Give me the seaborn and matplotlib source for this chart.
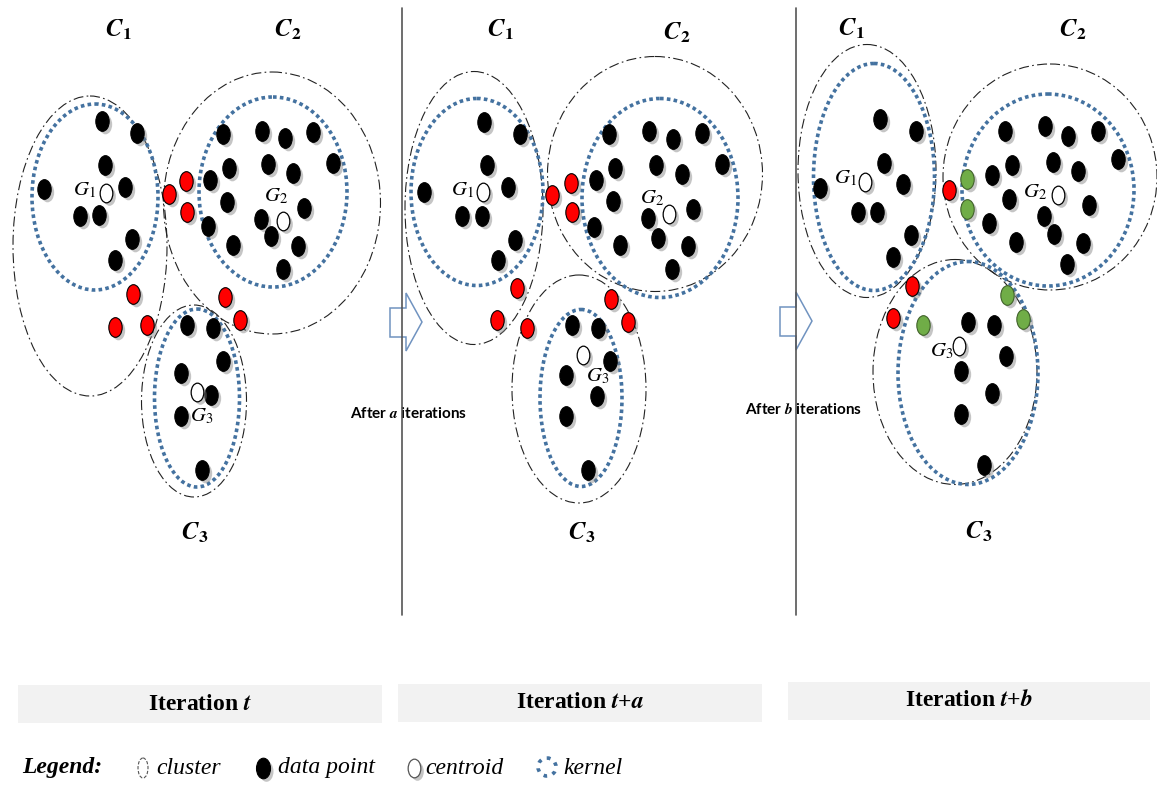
import numpy as np
import matplotlib
matplotlib.use('Agg')
import matplotlib.pyplot as plt
import seaborn as sns
from matplotlib.patches import Ellipse, Polygon, Rectangle
from matplotlib.path import Path
from matplotlib.transforms import offset_copy

# ---- data (pixel coordinates, y downwards) ----
black_t = [(102,121),(137,133),(105,165),(44,189),(125,187),(80,216),(99,215),(132,239),(115,260),
           (223,134),(262,131),(285,138),(313,132),(333,163),(229,168),(268,164),(293,173),(210,180),
           (227,202),(304,208),(261,219),(208,226),(271,236),(298,246),(233,245),(283,269),
           (187,325),(213,328),(223,361),(181,373),(211,395),(181,416),(202,470)]
red_t = [(169,194),(186,181),(187,212),(133,294),(115,327),(147,325),(225,297),(240,320)]
centroid_t = [(106,193),(283,221),(197,392)]

black_ta = [(484,122),(520,134),(487,165),(424,192),(508,187),(462,216),(482,216),(515,240),(498,260),
            (609,134),(649,131),(673,139),(702,133),(722,164),(615,168),(656,165),(682,174),(596,180),
            (613,201),(693,209),(648,218),(594,227),(658,238),(688,246),(620,245),(672,269),
            (572,325),(598,328),(610,361),(566,375),(597,396),(566,416),(588,470)]
red_ta = [(552,195),(571,183),(572,212),(517,288),(497,320),(527,328),(611,299),(628,322)]
centroid_ta = [(483,192),(669,214),(583,355)]

black_tb = [(880,119),(916,131),(884,163),(820,188),(903,184),(858,212),(877,212),(911,235),(893,257),
            (1005,131),(1045,126),(1068,136),(1098,131),(1118,159),(1012,165),(1053,162),(1078,171),(992,175),
            (1009,199),(1089,205),(1044,216),(989,223),(1054,234),(1083,243),(1016,242),(1067,264),
            (968,322),(994,325),(1006,356),(961,371),(992,393),(961,414),(984,465)]
red_tb = [(949,190),(912,286),(893,318)]
green_tb = [(967,179),(967,209),(923,325),(1007,295),(1023,319)]
centroid_tb = [(865,182),(1058,195),(959,346)]

# cluster / kernel ellipses: (cx, cy, width, height)
cluster_t = [(90,246,154,300),(272,203,217,262),(194,401,105,192)]
kernel_t = [(95,197,126,186),(273,192,148,190),(197,398,85,178)]
cluster_ta = [(474,208,138,273),(655,174,215,235),(579,389,134,228)]
kernel_ta = [(477,192,132,187),(660,198,156,199),(581,398,82,177)]
cluster_tb = [(867,171,138,253),(1050,177,214,226),(955,372,164,225)]
kernel_tb = [(874,177,121,227),(1048,190,172,192),(968,373,140,223)]

panel_titles = [r'Iteration $\mathbfit{t}$', r'Iteration $\mathbfit{t}$+$\mathbfit{a}$',
                r'Iteration $\mathbfit{t}$+$\mathbfit{b}$']
cluster_names = [r'$\mathbfit{C}_{\mathbf{1}}$', r'$\mathbfit{C}_{\mathbf{2}}$', r'$\mathbfit{C}_{\mathbf{3}}$']
centroid_names = [r'$G_1$', r'$G_2$', r'$G_3$']

sns.set_theme(style='white')
plt.rcParams['font.family'] = ['Liberation Serif', 'DejaVu Sans']
plt.rcParams['mathtext.fontset'] = 'stix'
plt.rcParams['text.color'] = 'black'

fig = plt.figure(figsize=(11.57, 7.87), dpi=100)
ax = fig.add_axes([0, 0, 1, 1])

KERNEL_BLUE = '#4472A0'
unit = Path.unit_circle()
oval = Path(unit.vertices * np.array([0.68, 1.0]), unit.codes)
shadow = offset_copy(ax.transData, fig=fig, x=2.5, y=-2.5, units='dots')


def draw_points(pts, face, edge, size=200, lw=0.8, z=5):
    pts = np.array(pts)
    ax.scatter(pts[:, 0], pts[:, 1], marker=oval, s=size, color='#7f7f7f', alpha=0.45,
               linewidths=0, transform=shadow, zorder=z - 1)
    sns.scatterplot(x=pts[:, 0], y=pts[:, 1], marker=oval, s=size, color=face,
                    edgecolor=edge, linewidth=lw, ax=ax, zorder=z, legend=False)


def draw_ellipses(clusters, kernels):
    for cx, cy, w, h in clusters:
        ax.add_patch(Ellipse((cx, cy), w, h, fill=False, ec='#222222', lw=0.8,
                             ls=(0, (9, 3, 1.5, 3)), zorder=2))
    for cx, cy, w, h in kernels:
        ax.add_patch(Ellipse((cx, cy), w, h, fill=False, ec=KERNEL_BLUE, lw=2.6,
                             ls=(0, (1, 0.9)), zorder=3))


panels = [
    (black_t, red_t, [], centroid_t, cluster_t, kernel_t),
    (black_ta, red_ta, [], centroid_ta, cluster_ta, kernel_ta),
    (black_tb, red_tb, green_tb, centroid_tb, cluster_tb, kernel_tb),
]
c_label_pos = [[(118,30),(288,30),(195,533)],
               [(500,30),(677,33),(582,533)],
               [(851,29),(1073,30),(979,532)]]
g_label_pos = [[(84,190),(276,196),(202,416)],
               [(462,190),(652,198),(598,376)],
               [(845,178),(1035,192),(942,351)]]

for i, (blk, red, grn, cen, clu, ker) in enumerate(panels):
    draw_ellipses(clu, ker)
    draw_points(blk, 'black', 'black')
    draw_points(red, '#FF0000', 'black')
    if grn:
        draw_points(grn, '#70AD47', '#41622B')
    draw_points(cen, 'white', 'black', size=180, lw=0.9, z=6)
    for name, (x, y) in zip(cluster_names, c_label_pos[i]):
        ax.text(x, y, name, fontsize=18, ha='center', va='center')
    for name, (x, y) in zip(centroid_names, g_label_pos[i]):
        ax.text(x, y, name, fontsize=15, ha='center', va='center', zorder=7)

# dividers and block arrows
for xv in [402, 796]:
    ax.plot([xv, xv], [8, 615], color='#555555', lw=1.2, zorder=4)
for x0, y0 in [(390, 322), (780, 321)]:
    arrow = [(x0, y0 - 14), (x0 + 16, y0 - 14), (x0 + 16, y0 - 29), (x0 + 32, y0),
             (x0 + 16, y0 + 29), (x0 + 16, y0 + 15), (x0, y0 + 15)]
    ax.add_patch(Polygon(arrow, closed=True, fc='white', ec='#7093C0', lw=1.1, zorder=3))
ax.text(350, 414, r'After $\mathbfit{a}$ iterations', fontsize=11, family=['Lato', 'DejaVu Sans'],
        fontweight='bold', ha='left', va='center')
ax.text(745, 409, r'After $\mathbfit{b}$ iterations', fontsize=11, family=['Lato', 'DejaVu Sans'],
        fontweight='bold', ha='left', va='center')

# iteration boxes
for (x0, y0, w, h), title in zip([(18, 685, 364, 38), (398, 684, 364, 38), (788, 682, 362, 38)],
                                 panel_titles):
    ax.add_patch(Rectangle((x0, y0), w, h, fc='#F2F2F2', ec='none', zorder=1))
    ax.text(x0 + w / 2, y0 + h / 2, title, fontsize=17, fontweight='bold',
            ha='center', va='center', zorder=2)

# legend row
ly = 768
ax.text(22, ly, 'Legend:', fontsize=17, fontweight='bold', style='italic', ha='left', va='center')
ax.add_patch(Ellipse((143, ly), 10, 20, fill=False, ec='#555555', lw=0.8, ls=(0, (3, 1.5))))
ax.text(156, ly, 'cluster', fontsize=17, style='italic', ha='left', va='center')
draw_points([(263, ly)], 'black', 'black', size=220)
ax.text(278, ly, 'data point', fontsize=17, style='italic', ha='left', va='center')
draw_points([(414, ly)], 'white', '#555555', size=180, lw=0.9)
ax.text(425, ly, 'centroid', fontsize=17, style='italic', ha='left', va='center')
ax.add_patch(Ellipse((547, ly - 1), 18, 18, fill=False, ec=KERNEL_BLUE, lw=2.6, ls=(0, (1, 1.6))))
ax.text(563, ly, 'kernel', fontsize=17, style='italic', ha='left', va='center')

ax.set_xlim(0, 1157)
ax.set_ylim(787, 0)
ax.axis('off')
fig.savefig('out.png', dpi=100, facecolor='white')
